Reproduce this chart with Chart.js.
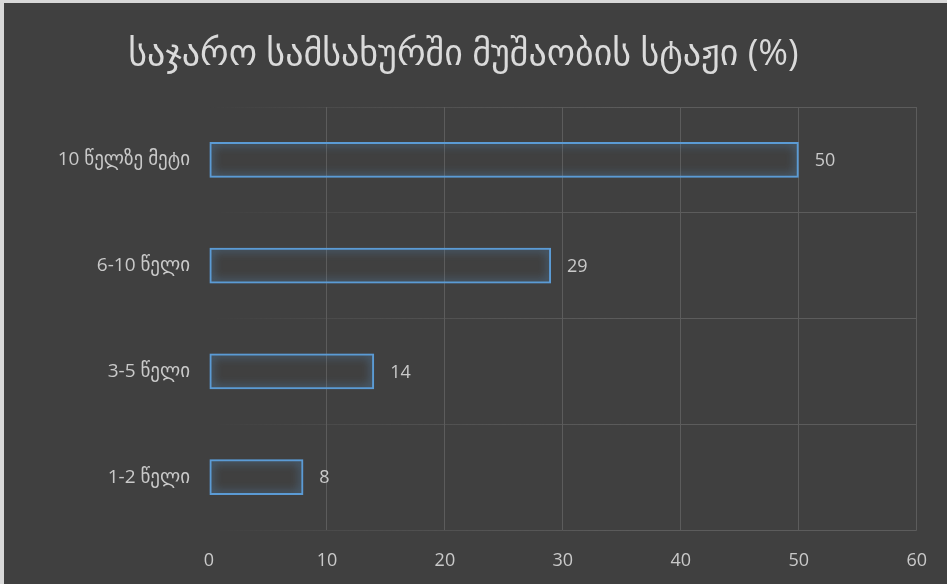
<!DOCTYPE html>
<html>
<head>
<meta charset="utf-8">
<script src="https://cdn.jsdelivr.net/npm/chart.js@4"></script>
<style>
  html, body { margin: 0; padding: 0; background: #404040; }
  #wrap {
    width: 943px;
    height: 581px;
    border-left: 4px solid #d9d9d9;
    border-top: 3px solid #d9d9d9;
    background: #404040;
  }
</style>
</head>
<body>
<div id="wrap"><canvas id="chart" width="943" height="581"></canvas></div>
<script>
const title = "საჯარო სამსახურში მუშაობის სტაჟი (%)";
const categories = ["10 წელზე მეტი", "6-10 წელი", "3-5 წელი", "1-2 წელი"];
const values = [50, 29, 14, 8];
const xMin = 0;
const xMax = 60;
const xStep = 10;

const fontFamily = "'Open Sans', 'DejaVu Sans', sans-serif";
const textColor = "#c9c9c9";
const gridColor = "#5c5c5c";
const barColor = "#5b9bd5";

// soft blue glow round the bar outlines
const glow = {
  id: "glow",
  beforeDatasetsDraw: (chart) => {
    const { ctx } = chart;
    ctx.save();
    ctx.shadowColor = "rgb(91,155,213)";
    ctx.shadowBlur = 10;
  },
  afterDatasetsDraw: (chart) => {
    chart.ctx.restore();
  },
};

// value labels to the right of each bar
const valueLabels = {
  id: "valueLabels",
  afterDatasetsDraw: (chart) => {
    const { ctx } = chart;
    const meta = chart.getDatasetMeta(0);
    ctx.save();
    ctx.font = "18px " + fontFamily;
    ctx.fillStyle = textColor;
    ctx.textAlign = "left";
    ctx.textBaseline = "middle";
    meta.data.forEach((bar, i) => {
      ctx.fillText(String(values[i]), bar.x + 16, bar.y + 1);
    });
    ctx.restore();
  },
};

// horizontal grid lines fade out towards the left
function fadeGrid(context) {
  const chart = context.chart;
  const area = chart.chartArea;
  if (!area) return gridColor;
  const g = chart.ctx.createLinearGradient(area.left, 0, area.right, 0);
  g.addColorStop(0, "rgba(92,92,92,0)");
  g.addColorStop(0.15, "rgba(92,92,92,0.35)");
  g.addColorStop(0.6, "rgba(92,92,92,1)");
  g.addColorStop(1, "rgba(92,92,92,1)");
  return g;
}

new Chart(document.getElementById("chart"), {
  type: "bar",
  data: {
    labels: categories,
    datasets: [
      {
        data: values,
        backgroundColor: "rgba(0,0,0,0)",
        borderColor: barColor,
        borderWidth: 2,
        borderSkipped: false,
        categoryPercentage: 1,
        barPercentage: 0.34,
      },
    ],
  },
  options: {
    indexAxis: "y",
    responsive: false,
    animation: false,
    layout: { padding: { left: 0, right: 24, top: 0, bottom: 0 } },
    plugins: {
      legend: { display: false },
      tooltip: { enabled: false },
      title: {
        display: true,
        text: title,
        color: "#dadada",
        font: { family: fontFamily, size: 36, weight: "normal", lineHeight: 1 },
        padding: { top: 34, bottom: 34 },
      },
    },
    scales: {
      x: {
        min: xMin,
        max: xMax,
        ticks: {
          stepSize: xStep,
          color: textColor,
          font: { family: fontFamily, size: 18 },
          padding: 20,
        },
        grid: {
          color: (c) => (c.index === 0 ? "rgba(0,0,0,0)" : gridColor),
          lineWidth: 1,
          drawTicks: false,
        },
        border: { display: false },
        afterFit: (scale) => {
          scale.height = 54;
        },
      },
      y: {
        ticks: {
          color: textColor,
          font: { family: fontFamily, size: 19 },
          padding: 19,
        },
        grid: {
          color: fadeGrid,
          lineWidth: 1,
          drawTicks: false,
          offset: true,
        },
        border: { display: false },
        afterFit: (scale) => {
          scale.width = 205;
        },
      },
    },
  },
  plugins: [glow, valueLabels],
});
</script>
</body>
</html>
